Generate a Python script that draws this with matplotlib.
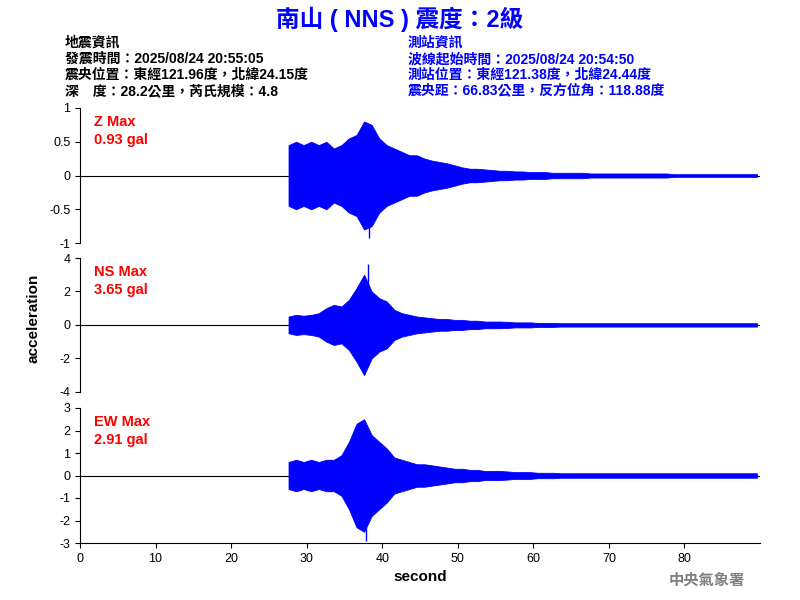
import numpy as np
import matplotlib
matplotlib.use("Agg")
import matplotlib.pyplot as plt

plt.rcParams['font.family'] = ['Liberation Sans', 'Noto Sans CJK TC', 'DejaVu Sans']

# Envelope amplitudes (gal) read per second, starting at t=28 s
z_env = [0.45, 0.5, 0.45, 0.5, 0.45, 0.5, 0.4, 0.45, 0.55, 0.6, 0.8, 0.75, 0.55, 0.45,
         0.4, 0.35, 0.3, 0.3, 0.25, 0.22, 0.2, 0.18, 0.15, 0.12, 0.1, 0.1, 0.09, 0.08,
         0.07, 0.07, 0.06, 0.06, 0.05, 0.05, 0.05, 0.04, 0.04, 0.04, 0.04, 0.04, 0.03,
         0.03, 0.03, 0.03, 0.03, 0.03, 0.03, 0.03, 0.03, 0.03, 0.03, 0.02, 0.02, 0.02,
         0.02, 0.02, 0.02, 0.02, 0.02, 0.02, 0.02, 0.02, 0.02]
ns_env = [0.5, 0.6, 0.55, 0.6, 0.7, 1.0, 1.2, 1.1, 1.5, 2.2, 3.0, 2.0, 1.6, 1.4,
          0.9, 0.7, 0.6, 0.5, 0.45, 0.4, 0.35, 0.35, 0.3, 0.3, 0.25, 0.25, 0.2, 0.2,
          0.2, 0.18, 0.15, 0.15, 0.15, 0.12, 0.12, 0.12, 0.1, 0.1, 0.1, 0.1, 0.1,
          0.1, 0.1, 0.1, 0.1, 0.1, 0.1, 0.1, 0.1, 0.1, 0.1, 0.1, 0.1, 0.1,
          0.1, 0.1, 0.1, 0.1, 0.1, 0.1, 0.1, 0.1, 0.1]
ew_env = [0.6, 0.7, 0.6, 0.7, 0.6, 0.7, 0.7, 0.9, 1.5, 2.3, 2.5, 1.8, 1.5, 1.2,
          0.8, 0.7, 0.6, 0.5, 0.5, 0.45, 0.4, 0.35, 0.3, 0.3, 0.25, 0.25, 0.2, 0.2,
          0.2, 0.18, 0.15, 0.15, 0.15, 0.12, 0.12, 0.12, 0.1, 0.1, 0.1, 0.1, 0.1,
          0.1, 0.1, 0.1, 0.1, 0.1, 0.1, 0.1, 0.1, 0.1, 0.1, 0.1, 0.1, 0.1,
          0.1, 0.1, 0.1, 0.1, 0.1, 0.1, 0.1, 0.1, 0.1]
# peak values (time, value)
z_peak = (38.3, -0.93)
ns_peak = (38.1, 3.65)
ew_peak = (37.9, -2.91)
names = ["Z Max\n0.93 gal", "NS Max\n3.65 gal", "EW Max\n2.91 gal"]
yticks = [[-1, -0.5, 0, 0.5, 1], [-4, -2, 0, 2, 4], [-3, -2, -1, 0, 1, 2, 3]]
ylims = [(-1, 1), (-4, 4), (-3, 3)]

fig = plt.figure(figsize=(8, 6), dpi=100)
boxes = [[0.1, 0.595, 0.85, 0.225], [0.1, 0.347, 0.85, 0.223], [0.1, 0.095, 0.85, 0.225]]
series = [(z_env, z_peak), (ns_env, ns_peak), (ew_env, ew_peak)]
for i, (box, (env, pk)) in enumerate(zip(boxes, series)):
    ax = fig.add_axes(box)
    env = np.array(env)
    t = 27.6 + np.arange(len(env))
    ax.fill_between(t, -env, env, color='blue', lw=0.6, edgecolor='blue')
    ax.vlines(pk[0], 0, pk[1], color='blue', lw=1)
    ax.axhline(0, color='black', lw=0.8, zorder=0)
    ax.set_xlim(0, 90)
    ax.set_ylim(*ylims[i])
    ax.set_yticks(yticks[i])
    ax.set_yticklabels([f"{v:g}" for v in yticks[i]])
    ax.spines['top'].set_visible(False)
    ax.spines['right'].set_visible(False)
    ax.tick_params(labelsize=9)
    ax.text(0.02, 0.95, names[i], transform=ax.transAxes, color='red',
            fontsize=10.5, fontweight='bold', va='top', ha='left', linespacing=1.4)
    if i < 2:
        ax.spines['bottom'].set_visible(False)
        ax.set_xticks([])
    else:
        ax.set_xticks(range(0, 90, 10))
        ax.set_xlabel("second", fontsize=11, fontweight='bold')

fig.text(0.042, 0.47, "acceleration", rotation=90, fontsize=11, fontweight='bold',
         ha='center', va='center')
fig.text(0.5, 0.968, "南山 ( NNS ) 震度：2級", color='blue', fontsize=17,
         fontweight='bold', ha='center', va='center')
left = ["地震資訊", "發震時間：2025/08/24 20:55:05", "震央位置：東經121.96度，北緯24.15度",
        "深　度：28.2公里，芮氏規模：4.8"]
right = ["測站資訊", "波線起始時間：2025/08/24 20:54:50", "測站位置：東經121.38度，北緯24.44度",
         "震央距：66.83公里，反方位角：118.88度"]
for k in range(4):
    y = 1 - (43 + 16 * k) / 600
    fig.text(65 / 800, y, left[k], fontsize=10, fontweight='bold', va='center', color='black')
    fig.text(408 / 800, y, right[k], fontsize=10, fontweight='bold', va='center', color='blue')
fig.text(745 / 800, 1 - 580 / 600, "中央氣象署", color='gray', fontsize=11,
         ha='right', va='center', fontweight='bold')

fig.savefig("out.png")
